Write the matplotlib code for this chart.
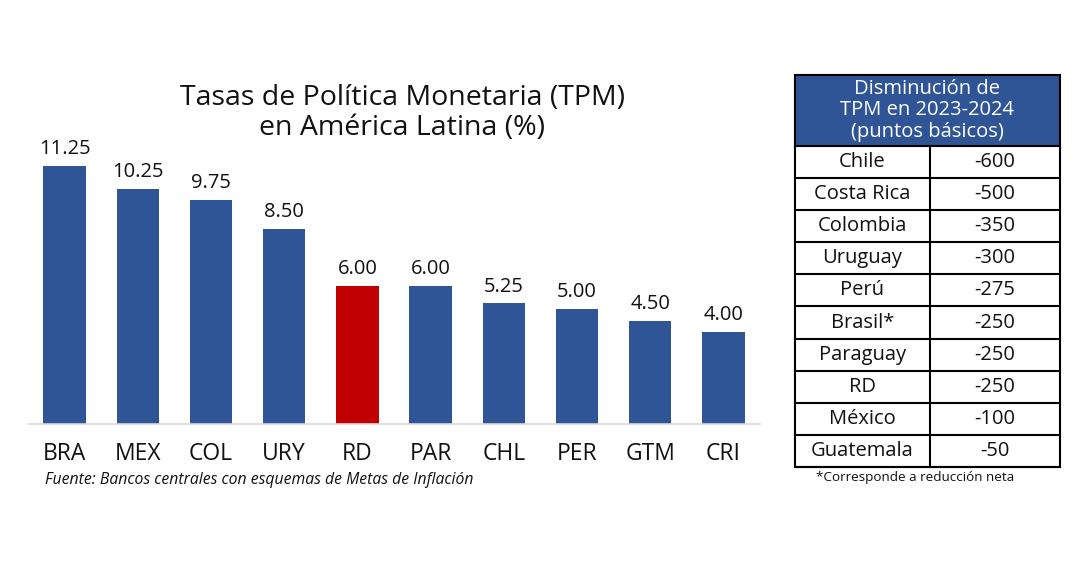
import matplotlib
matplotlib.use("Agg")
import matplotlib.pyplot as plt
from matplotlib.patches import Rectangle

plt.rcParams['font.family'] = ['Open Sans', 'DejaVu Sans']

# Bar chart data
countries = ['BRA', 'MEX', 'COL', 'URY', 'RD', 'PAR', 'CHL', 'PER', 'GTM', 'CRI']
rates = [11.25, 10.25, 9.75, 8.50, 6.00, 6.00, 5.25, 5.00, 4.50, 4.00]
highlight = 'RD'

# Table data
table_countries = ['Chile', 'Costa Rica', 'Colombia', 'Uruguay', 'Perú',
                   'Brasil*', 'Paraguay', 'RD', 'México', 'Guatemala']
table_cuts = [-600, -500, -350, -300, -275, -250, -250, -250, -100, -50]

blue = '#2F5597'
red = '#C00000'

W, H = 1080, 566
fig = plt.figure(figsize=(W / 100, H / 100), dpi=100)


def fbox(left, top, right, bottom):
    # pixel box -> figure fraction
    return [left / W, 1 - bottom / H, (right - left) / W, (bottom - top) / H]


# ---- bar chart ----
ax = fig.add_axes(fbox(28, 135, 760, 424))
colors = [red if c == highlight else blue for c in countries]
x = range(len(countries))
ax.bar(x, rates, width=0.58, color=colors, zorder=2)
for i, v in enumerate(rates):
    ax.annotate(f'{v:.2f}', (i, v), xytext=(0, 5), textcoords='offset points',
                ha='center', va='bottom', fontsize=14.5, color='#111111')
ax.set_xlim(-0.5, len(countries) - 0.5)
ax.set_ylim(0, 12.59)
ax.set_xticks(list(x))
ax.set_xticklabels(countries, fontsize=16.5, color='#111111')
ax.tick_params(axis='x', length=0, pad=13)
ax.set_yticks([])
for s in ['top', 'right', 'left']:
    ax.spines[s].set_visible(False)
ax.spines['bottom'].set_color('#D9D9D9')
ax.spines['bottom'].set_linewidth(1.2)

fig.text(402 / W, 1 - 113 / H, 'Tasas de Política Monetaria (TPM)\nen América Latina (%)',
         ha='center', va='center', fontsize=20.5, color='#111111', linespacing=1.05)
fig.text(45 / W, 1 - 480 / H, 'Fuente: Bancos centrales con esquemas de Metas de Inflación',
         ha='left', va='center', fontsize=11.3, style='italic', color='#111111')

# ---- table ----
tax = fig.add_axes(fbox(795, 75, 1060, 467))
n = len(table_countries)
header_h = 2.21
split = 0.509
tax.set_xlim(0, 1)
tax.set_ylim(0, n + header_h)
tax.axis('off')

tax.add_patch(Rectangle((0, n), 1, header_h, facecolor=blue, edgecolor='none'))
tax.text(0.5, n + header_h / 2, 'Disminución de\nTPM en 2023-2024\n(puntos básicos)',
         ha='center', va='center', fontsize=14.5, color='white', linespacing=1.12)

for i, (name, cut) in enumerate(zip(table_countries, table_cuts)):
    yc = n - i - 0.5
    tax.text(split / 2, yc, name, ha='center', va='center', fontsize=14.5, color='#111111')
    tax.text((1 + split) / 2, yc, f'{cut}', ha='center', va='center', fontsize=14.5,
             color='#111111')

lw = 1.5
for k in range(n + 1):
    tax.plot([0, 1], [k, k], color='black', lw=lw, clip_on=False, solid_capstyle='projecting')
tax.plot([split, split], [0, n], color='black', lw=lw, clip_on=False)
tax.add_patch(Rectangle((0, 0), 1, n + header_h, facecolor='none', edgecolor='black',
                        lw=lw, clip_on=False))

fig.text(915 / W, 1 - 478 / H, '*Corresponde a reducción neta', ha='center', va='center',
         fontsize=9.7, color='#111111')

fig.savefig('out.png', dpi=100, facecolor='white')
